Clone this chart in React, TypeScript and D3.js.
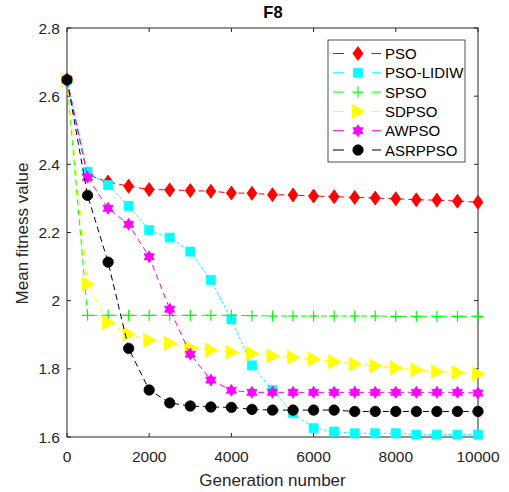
import React from "react";
import * as d3 from "d3";

const generations = [0, 500, 1000, 1500, 2000, 2500, 3000, 3500, 4000, 4500, 5000, 5500, 6000, 6500, 7000, 7500, 8000, 8500, 9000, 9500, 10000];
const psoValues = [2.648, 2.37, 2.348, 2.336, 2.326, 2.325, 2.323, 2.321, 2.316, 2.315, 2.311, 2.31, 2.307, 2.305, 2.303, 2.301, 2.299, 2.296, 2.295, 2.292, 2.289];
const lidiwValues = [2.648, 2.378, 2.339, 2.278, 2.207, 2.185, 2.144, 2.061, 1.945, 1.81, 1.738, 1.67, 1.626, 1.616, 1.611, 1.611, 1.611, 1.607, 1.607, 1.607, 1.607];
const spsoValues = [2.648, 1.957, 1.957, 1.957, 1.957, 1.957, 1.957, 1.957, 1.957, 1.956, 1.955, 1.955, 1.955, 1.955, 1.955, 1.955, 1.954, 1.954, 1.954, 1.954, 1.954];
const sdpsoValues = [2.648, 2.049, 1.935, 1.902, 1.884, 1.875, 1.862, 1.855, 1.849, 1.845, 1.838, 1.834, 1.828, 1.821, 1.814, 1.809, 1.803, 1.797, 1.792, 1.789, 1.785];
const awpsoValues = [2.648, 2.362, 2.271, 2.224, 2.129, 1.975, 1.843, 1.767, 1.737, 1.731, 1.731, 1.731, 1.731, 1.731, 1.731, 1.731, 1.731, 1.731, 1.731, 1.731, 1.729];
const asrppsoValues = [2.648, 2.309, 2.113, 1.86, 1.738, 1.7, 1.691, 1.688, 1.687, 1.681, 1.679, 1.679, 1.679, 1.679, 1.675, 1.675, 1.675, 1.675, 1.675, 1.675, 1.675];
const seriesNames = ["PSO", "PSO-LIDIW", "SPSO", "SDPSO", "AWPSO", "ASRPPSO"];
const seriesColors = ["#ff0000", "#00ffff", "#00ff00", "#ffff00", "#ff00ff", "#000000"];
const seriesMarkers = ["diamond", "square", "plus", "triangle", "hexagram", "circle"];
const seriesDashes = ["6,4", "3,2", "6,4", "6,4", "6,4", "6,4"];
const xTicks = [0, 2000, 4000, 6000, 8000, 10000];
const yTicks = [1.6, 1.8, 2.0, 2.2, 2.4, 2.6, 2.8];
const yTickLabels = ["1.6", "1.8", "2", "2.2", "2.4", "2.6", "2.8"];

const allValues = [psoValues, lidiwValues, spsoValues, sdpsoValues, awpsoValues, asrppsoValues];

const W = 509, H = 492;
const left = 67, right = 478, top = 28, bottom = 437;
const axisColor = "#262626";
const font = "Helvetica, Arial, 'Liberation Sans', sans-serif";

function markerPath(kind: string): string {
  switch (kind) {
    case "diamond":
      return "M0,-7 L5,0 L0,7 L-5,0 Z";
    case "square":
      return "M-4.5,-4.5 L4.5,-4.5 L4.5,4.5 L-4.5,4.5 Z";
    case "plus":
      return "M-5.5,0 L5.5,0 M0,-5.5 L0,5.5";
    case "triangle":
      return "M-5.5,-7 L7,0 L-5.5,7 Z";
    case "hexagram": {
      const r = 6;
      const p = (a: number) => [r * Math.cos(a), r * Math.sin(a)];
      const t1 = [-90, 30, 150].map((d) => p((d * Math.PI) / 180));
      const t2 = [90, 210, 330].map((d) => p((d * Math.PI) / 180));
      return (
        "M" + t1.map((q) => q.join(",")).join("L") + "Z" +
        "M" + t2.map((q) => q.join(",")).join("L") + "Z"
      );
    }
    case "circle":
    default:
      return d3.symbol(d3.symbolCircle, 85)() || "";
  }
}

function Marker({ kind, color, x, y }: { kind: string; color: string; x: number; y: number }) {
  const isPlus = kind === "plus";
  return (
    <path
      d={markerPath(kind)}
      transform={`translate(${x},${y})`}
      fill={isPlus ? "none" : color}
      stroke={color}
      strokeWidth={isPlus ? 1.2 : 0.8}
    />
  );
}

export default function App() {
  const x = d3.scaleLinear().domain([0, 10000]).range([left, right]);
  const y = d3.scaleLinear().domain([1.6, 2.8]).range([bottom, top]);
  const line = d3
    .line<number>()
    .x((_, i) => x(generations[i]))
    .y((d) => y(d));

  const legendX = 328, legendY = 40, legendW = 137, legendH = 122;
  const rowH = 19.3;

  return (
    <svg width={W} height={H} style={{ position: "absolute", left: 0, top: 0, background: "#fff" }} fontFamily={font}>
      <rect x={0} y={0} width={W} height={H} fill="#fff" />
      <defs>
        <clipPath id="plotclip">
          <rect x={left - 10} y={top - 10} width={right - left + 20} height={bottom - top + 20} />
        </clipPath>
      </defs>
      <rect x={left} y={top} width={right - left} height={bottom - top} fill="none" stroke={axisColor} strokeWidth={1} />
      {xTicks.map((t) => (
        <g key={"xt" + t}>
          <line x1={x(t)} x2={x(t)} y1={bottom} y2={bottom - 4} stroke={axisColor} />
          <line x1={x(t)} x2={x(t)} y1={top} y2={top + 4} stroke={axisColor} />
          <text x={x(t)} y={462} textAnchor="middle" fontSize={15.5} fill={axisColor}>
            {t}
          </text>
        </g>
      ))}
      {yTicks.map((t, i) => (
        <g key={"yt" + t}>
          <line x1={left} x2={left + 4} y1={y(t)} y2={y(t)} stroke={axisColor} />
          <line x1={right} x2={right - 4} y1={y(t)} y2={y(t)} stroke={axisColor} />
          <text x={60} y={y(t) + 5.5} textAnchor="end" fontSize={15.5} fill={axisColor}>
            {yTickLabels[i]}
          </text>
        </g>
      ))}
      <text x={(left + right) / 2} y={486} textAnchor="middle" fontSize={17} fill={axisColor}>
        Generation number
      </text>
      <text
        transform={`translate(28,${(top + bottom) / 2 + 1}) rotate(-90)`}
        textAnchor="middle"
        fontSize={17}
        fill={axisColor}
      >
        Mean fitness value
      </text>
      <text x={273} y={18} textAnchor="middle" fontSize={16.5} fontWeight="bold" fill="#000">
        F8
      </text>
      <g clipPath="url(#plotclip)">
        {allValues.map((vals, si) => (
          <g key={"s" + si}>
            <path d={line(vals) || ""} fill="none" stroke={seriesColors[si]} strokeWidth={1} strokeDasharray={seriesDashes[si]} />
            {vals.map((v, i) => (
              <Marker key={i} kind={seriesMarkers[si]} color={seriesColors[si]} x={x(generations[i])} y={y(v)} />
            ))}
          </g>
        ))}
      </g>
      <rect x={legendX} y={legendY} width={legendW} height={legendH} fill="#fff" stroke={axisColor} strokeWidth={0.8} />
      {seriesNames.map((name, i) => {
        const cy = legendY + 13.5 + i * rowH;
        return (
          <g key={"lg" + name}>
            <line x1={legendX + 5} x2={legendX + 16} y1={cy} y2={cy} stroke={seriesColors[i]} />
            <line x1={legendX + 44} x2={legendX + 53} y1={cy} y2={cy} stroke={seriesColors[i]} />
            <Marker kind={seriesMarkers[i]} color={seriesColors[i]} x={legendX + 30} y={cy} />
            <text x={legendX + 57} y={cy + 5.5} fontSize={15} fill="#000">
              {name}
            </text>
          </g>
        );
      })}
    </svg>
  );
}
